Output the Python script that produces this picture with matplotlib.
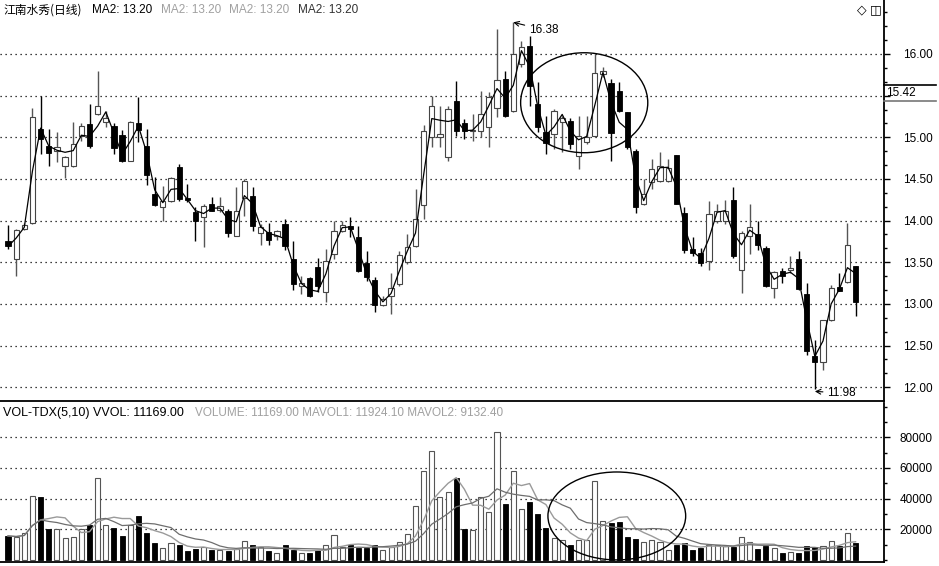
import matplotlib
matplotlib.use("Agg")
import matplotlib.pyplot as plt
from matplotlib.patches import Ellipse
from matplotlib.ticker import AutoMinorLocator
from matplotlib.lines import Line2D
import numpy as np
import pandas as pd

plt.rcParams['font.family'] = ['Liberation Sans', 'DejaVu Sans']

# daily OHLC (105 sessions)
opens = [13.75, 13.54, 13.90, 13.97, 15.10, 14.89, 14.83, 14.65, 14.65, 15.02,
         15.16, 15.28, 15.18, 15.13, 15.03, 14.72, 15.17, 14.89, 14.32, 14.16,
         14.23, 14.64, 14.27, 14.10, 14.04, 14.20, 14.13, 14.12, 13.82, 14.27,
         14.29, 13.85, 13.86, 13.82, 13.96, 13.54, 13.21, 13.31, 13.44, 13.14,
         13.60, 13.88, 13.93, 13.80, 13.49, 13.29, 12.99, 13.10, 13.24, 13.50,
         13.70, 14.19, 15.00, 15.00, 14.76, 15.43, 15.17, 15.07, 15.08, 15.12,
         15.35, 15.70, 15.32, 15.88, 16.10, 15.40, 15.06, 15.04, 15.18, 15.19,
         14.78, 14.94, 15.02, 15.76, 15.65, 15.56, 15.30, 14.83, 14.20, 14.46,
         14.48, 14.48, 14.79, 14.09, 13.66, 13.61, 13.51, 14.00, 13.99, 14.25,
         13.41, 13.82, 13.84, 13.67, 13.19, 13.39, 13.41, 13.54, 13.12, 12.38,
         12.30, 12.81, 13.20, 13.26, 13.45]
highs = [13.95, 13.90, 13.97, 15.35, 15.50, 15.10, 15.06, 14.78, 15.18, 15.17,
         15.40, 15.80, 15.31, 15.17, 15.09, 15.19, 15.48, 15.10, 14.52, 14.42,
         14.52, 14.68, 14.44, 14.16, 14.20, 14.28, 14.28, 14.14, 14.40, 14.50,
         14.40, 13.96, 13.97, 13.89, 14.02, 13.75, 13.34, 13.32, 13.55, 13.66,
         14.00, 14.00, 14.04, 13.94, 13.64, 13.32, 13.10, 13.37, 13.64, 13.84,
         14.38, 15.15, 15.50, 15.37, 15.37, 15.68, 15.22, 15.28, 15.56, 15.54,
         16.30, 15.80, 16.38, 16.16, 16.22, 15.66, 15.26, 15.34, 15.26, 15.23,
         15.26, 15.26, 16.00, 15.84, 15.70, 15.66, 15.30, 14.86, 14.50, 14.74,
         14.82, 14.74, 14.79, 14.16, 13.80, 13.67, 14.24, 14.20, 14.25, 14.40,
         13.88, 14.20, 14.00, 13.69, 13.40, 13.43, 13.58, 13.64, 13.25, 12.57,
         12.81, 13.23, 13.37, 13.97, 13.46]
lows = [13.66, 13.33, 13.89, 13.96, 14.80, 14.65, 14.70, 14.51, 14.64, 14.96,
        14.87, 15.27, 15.12, 14.80, 14.70, 14.71, 14.94, 14.43, 14.18, 14.00,
        14.22, 14.24, 14.22, 13.75, 13.68, 14.11, 14.10, 13.80, 13.81, 14.06,
        13.88, 13.71, 13.71, 13.77, 13.65, 13.17, 13.12, 13.08, 13.14, 13.02,
        13.54, 13.86, 13.80, 13.38, 13.28, 12.90, 12.98, 12.88, 13.22, 13.48,
        13.68, 14.02, 14.88, 14.88, 14.72, 15.02, 14.98, 14.96, 15.00, 14.88,
        15.24, 15.24, 15.30, 15.84, 15.38, 15.06, 14.80, 14.86, 14.82, 14.86,
        14.62, 14.92, 15.00, 15.72, 14.72, 15.30, 14.86, 14.09, 14.19, 14.38,
        14.46, 14.46, 14.20, 13.61, 13.57, 13.45, 13.41, 13.97, 13.96, 13.55,
        13.13, 13.60, 13.65, 13.20, 13.07, 13.25, 13.37, 13.17, 12.39, 11.98,
        12.21, 12.79, 13.15, 13.25, 12.86]
closes = [13.69, 13.89, 13.95, 15.24, 14.98, 14.81, 14.88, 14.76, 14.92, 15.13,
          14.89, 15.38, 15.23, 14.87, 14.72, 15.18, 15.09, 14.55, 14.19, 14.24,
          14.51, 14.26, 14.25, 13.99, 14.18, 14.12, 14.18, 13.85, 14.12, 14.48,
          13.93, 13.92, 13.77, 13.87, 13.69, 13.24, 13.25, 13.09, 13.21, 13.51,
          13.88, 13.95, 13.90, 13.40, 13.32, 12.99, 13.06, 13.19, 13.59, 13.68,
          14.02, 15.08, 15.37, 15.04, 15.34, 15.08, 15.08, 15.09, 15.28, 15.48,
          15.69, 15.25, 16.00, 16.08, 15.62, 15.12, 14.93, 15.32, 15.23, 14.92,
          15.02, 15.00, 15.77, 15.79, 15.05, 15.31, 14.88, 14.16, 14.32, 14.62,
          14.65, 14.63, 14.20, 13.65, 13.61, 13.49, 14.08, 14.12, 14.12, 13.57,
          13.85, 13.92, 13.71, 13.21, 13.38, 13.33, 13.43, 13.18, 12.44, 12.30,
          12.81, 13.19, 13.16, 13.71, 13.02]
volumes = [15700, 14900, 17400, 41900, 40900, 20000, 20200, 14300, 14900, 20000,
           22800, 53200, 22800, 20600, 15700, 22800, 28700, 17400, 11100, 7900,
           11100, 9600, 5700, 7200, 8500, 6400, 6400, 5700, 7200, 12100,
           9600, 8500, 5700, 4700, 9600, 6800, 4700, 4300, 6200, 9600,
           16000, 8500, 10000, 7900, 7900, 10000, 6400, 8500, 11500, 16800,
           35100, 58300, 71300, 41300, 44000, 53600, 20200, 19600, 40900, 31300,
           83400, 36200, 58300, 33400, 37700, 30200, 21100, 14300, 13200, 9600,
           13200, 12800, 51500, 25300, 24300, 24900, 14900, 13600, 11700, 12800,
           11500, 6400, 10000, 11100, 6400, 7900, 10000, 10000, 8900, 8500,
           15300, 11500, 7200, 9400, 7900, 4300, 5300, 4300, 8900, 8300,
           8900, 12100, 9400, 17900, 11169]

price_ticks = [12.0, 12.5, 13.0, 13.5, 14.0, 14.5, 15.0, 15.5, 16.0]
vol_ticks = [20000, 40000, 60000, 80000]

df = pd.DataFrame({'open': opens, 'high': highs, 'low': lows,
                   'close': closes, 'vol': volumes})
df['ma2'] = df['close'].rolling(2, min_periods=1).mean()
df['mavol1'] = df['vol'].rolling(5, min_periods=1).mean()
df['mavol2'] = df['vol'].rolling(10, min_periods=1).mean()
x = np.arange(len(df))
down = df['close'] < df['open']

W, H = 939, 566
fig = plt.figure(figsize=(W / 100, H / 100), dpi=100)
ax1 = fig.add_axes([0, 1 - 401 / H, 884 / W, 401 / H])
ax2 = fig.add_axes([0, 1 - 562 / H, 884 / W, (562 - 403) / H])

xlim = (-8 / 8.15, 876 / 8.15)
grid_kw = dict(color='black', linestyle=(0, (1, 3)), linewidth=0.9)

# ---- price panel ----
for i in x:
    o, h, l, c = df.loc[i, ['open', 'high', 'low', 'close']]
    if down[i]:
        ax1.vlines(i, l, h, color='black', linewidth=1.0, zorder=3)
        ax1.bar(i, max(o - c, 0.012), bottom=c, width=0.64, color='black',
                edgecolor='black', linewidth=0.6, zorder=4)
    else:
        ax1.vlines(i, l, h, color='#555555', linewidth=1.0, zorder=3)
        ax1.bar(i, max(c - o, 0.012), bottom=o, width=0.64, color='white',
                edgecolor='#444444', linewidth=0.8, zorder=4)
ax1.plot(x, df['ma2'], color='black', linewidth=0.9, zorder=5)

for p in price_ticks:
    ax1.axhline(p, zorder=1, **grid_kw)

ax1.add_patch(Ellipse((70.7, 15.415), 15.6, 1.2, fill=False,
                      edgecolor='black', linewidth=1.0, zorder=6))

ax1.annotate('16.38', xy=(62.0, 16.38), xytext=(63.9, 16.29),
             fontsize=8.5, va='center', ha='left',
             arrowprops=dict(arrowstyle='->', color='black', lw=0.8,
                             shrinkA=1, shrinkB=0))
ax1.annotate('11.98', xy=(99.0, 11.95), xytext=(100.5, 11.93),
             fontsize=8.5, va='center', ha='left',
             arrowprops=dict(arrowstyle='->', color='black', lw=0.8,
                             shrinkA=1, shrinkB=0))

ax1.set_xlim(*xlim)
ax1.set_ylim(16 - (401 - 54) / 83.3, 16 + 54 / 83.3)
ax1.set_xticks([])
ax1.yaxis.tick_right()
ax1.set_yticks(price_ticks)
# the 15.50 label sits under the current-price box
ax1.set_yticklabels(['' if p == 15.5 else f'{p:.2f}' for p in price_ticks])
ax1.yaxis.set_minor_locator(AutoMinorLocator(3))
ax1.tick_params(axis='y', which='major', length=4, width=1, pad=10,
                labelsize=8.5)
ax1.tick_params(axis='y', which='minor', length=2.5, width=1)
for s in ['top', 'left']:
    ax1.spines[s].set_visible(False)
ax1.spines['right'].set_linewidth(1.3)
ax1.spines['bottom'].set_linewidth(1.3)

# ---- volume panel ----
vol_down = df['vol'].where(down)
vol_up = df['vol'].where(~down)
ax2.bar(x, vol_up, width=0.62, color='white', edgecolor='#555555',
        linewidth=0.8, zorder=3)
ax2.bar(x, vol_down, width=0.62, color='black', edgecolor='black',
        linewidth=0.6, zorder=3)
ax2.plot(x, df['mavol1'], color='#9a9a9a', linewidth=1.0, zorder=4)
ax2.plot(x, df['mavol2'], color='#6e6e6e', linewidth=0.9, zorder=4)
for v in vol_ticks:
    ax2.axhline(v, zorder=1, **grid_kw)
ax2.add_patch(Ellipse((74.7, 28700), 16.9, 57300, fill=False,
                      edgecolor='black', linewidth=1.0, zorder=6))

ax2.set_xlim(*xlim)
ax2.set_ylim(-1300, 102300)
ax2.set_xticks([])
ax2.yaxis.tick_right()
ax2.set_yticks(vol_ticks)
ax2.set_yticklabels([str(v) for v in vol_ticks])
ax2.yaxis.set_minor_locator(AutoMinorLocator(2))
ax2.tick_params(axis='y', which='major', length=4, width=1, pad=7,
                labelsize=8.5)
ax2.tick_params(axis='y', which='minor', length=2.5, width=1)
for s in ['top', 'left']:
    ax2.spines[s].set_visible(False)
ax2.spines['right'].set_linewidth(1.3)
ax2.spines['bottom'].set_linewidth(1.3)

# ---- header texts ----
def px(xp, yp):
    return xp / W, 1 - yp / H

fig.text(*px(3, 10), '江南水秀(日线)', fontsize=8.5, va='center',
         family=['Noto Sans CJK SC', 'DejaVu Sans'])
fig.text(*px(92, 10), 'MA2: 13.20', fontsize=8.5, va='center', color='black')
fig.text(*px(161, 10), 'MA2: 13.20', fontsize=8.5, va='center', color='#a0a0a0')
fig.text(*px(229, 10), 'MA2: 13.20', fontsize=8.5, va='center', color='#a0a0a0')
fig.text(*px(298, 10), 'MA2: 13.20', fontsize=8.5, va='center', color='#333333')
fig.text(*px(857, 10), '◇', fontsize=9, va='center',
         family=['DejaVu Sans'])
fig.text(*px(870, 10), '◫', fontsize=9, va='center',
         family=['DejaVu Sans'])

fig.text(*px(3, 413), 'VOL-TDX(5,10) VVOL: 11169.00', fontsize=9,
         va='center', color='black')
fig.text(*px(195, 413), 'VOLUME: 11169.00 MAVOL1: 11924.10 MAVOL2: 9132.40',
         fontsize=8.5, va='center', color='#a0a0a0')

# current price box on the right axis
fig.add_artist(Line2D([884 / W, 936 / W], [1 - 85 / H, 1 - 85 / H],
                      color='black', linewidth=1.2))
fig.add_artist(Line2D([884 / W, 936 / W], [1 - 101 / H, 1 - 101 / H],
                      color='#777777', linewidth=1.2))
fig.text(*px(886, 93), '15.42', fontsize=8.5, va='center')

fig.savefig('out.png', dpi=100)
